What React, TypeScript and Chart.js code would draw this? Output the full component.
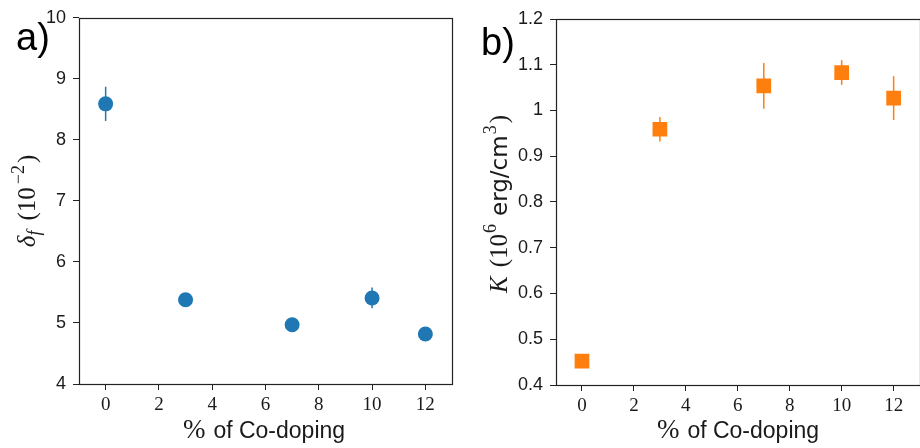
import React, { useEffect, useRef } from "react";
import { Chart, registerables } from "chart.js";

Chart.register(...registerables);

// ---- data ----
const codoping = [0, 3, 7, 10, 12];
const deltaF = [8.59, 5.38, 4.97, 5.41, 4.82];
const deltaFErr = [0.28, 0.06, 0.05, 0.17, 0.05];
const anisK = [0.452, 0.959, 1.054, 1.083, 1.027];
const anisKErr = [0.01, 0.027, 0.05, 0.027, 0.048];
const xTicks = [0, 2, 4, 6, 8, 10, 12];
const deltaTicks = [4, 5, 6, 7, 8, 9, 10];
const deltaTickLabels = ["4", "5", "6", "7", "8", "9", "10"];
const kTicks = [0.4, 0.5, 0.6, 0.7, 0.8, 0.9, 1.0, 1.1, 1.2];
const kTickLabels = ["0.4", "0.5", "0.6", "0.7", "0.8", "0.9", "1", "1.1", "1.2"];

const BLUE = "#1f77b4";
const ORANGE = "#ff7f0e";
const INK = "#1a1a1a";
const SERIF = "'Liberation Serif', 'DejaVu Serif', serif";
const SANS = "'Liberation Sans', Arial, sans-serif";
const DSANS = "'DejaVu Sans', sans-serif";

type Seg = { t: string; f: string; dy?: number; gap?: number };

function drawSegs(ctx: CanvasRenderingContext2D, segs: Seg[], x: number, y: number, rotate: boolean) {
  ctx.save();
  ctx.translate(x, y);
  if (rotate) ctx.rotate(-Math.PI / 2);
  ctx.textBaseline = "alphabetic";
  ctx.textAlign = "left";
  ctx.fillStyle = INK;
  let total = 0;
  const widths = segs.map((s) => {
    ctx.font = s.f;
    const w = ctx.measureText(s.t).width;
    total += w + (s.gap || 0);
    return w;
  });
  let cx = -total / 2;
  segs.forEach((s, i) => {
    cx += s.gap || 0;
    ctx.font = s.f;
    ctx.fillText(s.t, cx, s.dy || 0);
    cx += widths[i];
  });
  ctx.restore();
}

type PanelCfg = {
  ys: number[];
  errs: number[];
  color: string;
  pointStyle: string;
  radius: number;
  yMin: number;
  yMax: number;
  yTicks: number[];
  yLabels: string[];
  yWidth: number;
  padTop: number;
  padRight: number;
  xHeight: number;
  yTitle: Seg[];
  yTitleX: number;
  yTitleY: number;
  xTitleX: number;
  panel: string;
  panelX: number;
  panelY: number;
};

function makeChart(canvas: HTMLCanvasElement, c: PanelCfg) {
  const points = codoping.map((x, i) => ({ x, y: c.ys[i] }));
  const deco = {
    id: "deco",
    beforeDatasetsDraw(chart: any) {
      const ctx = chart.ctx as CanvasRenderingContext2D;
      const xs = chart.scales.x;
      const ys = chart.scales.y;
      ctx.save();
      ctx.strokeStyle = c.color;
      ctx.lineWidth = 1.5;
      points.forEach((p, i) => {
        const px = xs.getPixelForValue(p.x);
        ctx.beginPath();
        ctx.moveTo(px, ys.getPixelForValue(p.y - c.errs[i]));
        ctx.lineTo(px, ys.getPixelForValue(p.y + c.errs[i]));
        ctx.stroke();
      });
      ctx.restore();
    },
    afterDraw(chart: any) {
      const ctx = chart.ctx as CanvasRenderingContext2D;
      const a = chart.chartArea;
      ctx.save();
      ctx.strokeStyle = "#222";
      ctx.lineWidth = 1.2;
      ctx.strokeRect(Math.round(a.left) + 0.5, Math.round(a.top) + 0.5, Math.round(a.right - a.left), Math.round(a.bottom - a.top));
      ctx.restore();
      drawSegs(ctx, c.yTitle, c.yTitleX, c.yTitleY, true);
      drawSegs(
        ctx,
        [
          { t: "%", f: `27px ${SERIF}` },
          { t: "of Co-doping", f: `23px ${SANS}`, gap: 8 },
        ],
        c.xTitleX,
        438,
        false
      );
      ctx.save();
      ctx.fillStyle = "#000";
      ctx.font = `38px ${SANS}`;
      ctx.textBaseline = "alphabetic";
      ctx.textAlign = "left";
      ctx.fillText(c.panel, c.panelX, c.panelY);
      ctx.restore();
    },
  };

  return new Chart(canvas, {
    type: "scatter",
    data: {
      datasets: [
        {
          data: points,
          backgroundColor: c.color,
          borderColor: c.color,
          pointStyle: c.pointStyle as any,
          pointRadius: c.radius,
          pointHoverRadius: c.radius,
          pointBorderWidth: 0,
          showLine: false,
        },
      ],
    },
    options: {
      responsive: false,
      animation: false,
      devicePixelRatio: 1,
      layout: { padding: { left: 0, top: c.padTop, right: c.padRight, bottom: 0 } },
      plugins: { legend: { display: false }, tooltip: { enabled: false } },
      scales: {
        x: {
          type: "linear",
          min: -1,
          max: 13,
          afterBuildTicks: (s: any) => {
            s.ticks = xTicks.map((v) => ({ value: v }));
          },
          afterFit: (s: any) => {
            s.height = c.xHeight;
          },
          ticks: {
            color: INK,
            font: { family: SERIF, size: 19 },
            padding: 4,
            maxRotation: 0,
            autoSkip: false,
            callback: (v: any) => String(v),
          },
          grid: { display: true, drawOnChartArea: false, drawTicks: true, tickLength: 6, color: "#222", lineWidth: 1 },
          border: { display: false },
          title: { display: false },
        },
        y: {
          type: "linear",
          min: c.yMin,
          max: c.yMax,
          afterBuildTicks: (s: any) => {
            s.ticks = c.yTicks.map((v) => ({ value: v }));
          },
          afterFit: (s: any) => {
            s.width = c.yWidth;
          },
          ticks: {
            color: INK,
            font: { family: SANS, size: 18 },
            padding: 7,
            autoSkip: false,
            callback: (v: any) => {
              const i = c.yTicks.findIndex((t) => Math.abs(t - Number(v)) < 1e-9);
              return i >= 0 ? c.yLabels[i] : "";
            },
          },
          grid: { display: true, drawOnChartArea: false, drawTicks: true, tickLength: 6, color: "#222", lineWidth: 1 },
          border: { display: false },
          title: { display: false },
        },
      },
    },
    plugins: [deco],
  });
}

export default function App() {
  const leftRef = useRef<HTMLCanvasElement>(null);
  const rightRef = useRef<HTMLCanvasElement>(null);

  useEffect(() => {
    const left = makeChart(leftRef.current!, {
      ys: deltaF,
      errs: deltaFErr,
      color: BLUE,
      pointStyle: "circle",
      radius: 7.5,
      yMin: 4,
      yMax: 10,
      yTicks: deltaTicks,
      yLabels: deltaTickLabels,
      yWidth: 79,
      padTop: 12,
      padRight: 8,
      xHeight: 64,
      yTitle: [
        { t: "δ", f: `italic 25px ${SERIF}` },
        { t: "f", f: `italic 18px ${SERIF}`, dy: 5 },
        { t: "(10", f: `25px ${SERIF}`, gap: 10 },
        { t: "−2", f: `18px ${SERIF}`, dy: -11, gap: 3 },
        { t: ")", f: `25px ${SERIF}`, gap: 2 },
      ],
      yTitleX: 35,
      yTitleY: 201,
      xTitleX: 264,
      panel: "a)",
      panelX: 16,
      panelY: 50,
    });
    const right = makeChart(rightRef.current!, {
      ys: anisK,
      errs: anisKErr,
      color: ORANGE,
      pointStyle: "rect",
      radius: 10.4,
      yMin: 0.4,
      yMax: 1.2,
      yTicks: kTicks,
      yLabels: kTickLabels,
      yWidth: 96,
      padTop: 19,
      padRight: 9,
      xHeight: 63,
      yTitle: [
        { t: "K", f: `italic 25px ${SERIF}` },
        { t: "(10", f: `25px ${SERIF}`, gap: 9 },
        { t: "6", f: `18px ${SERIF}`, dy: -11, gap: 1 },
        { t: "erg/cm", f: `23px ${DSANS}`, gap: 8 },
        { t: "3", f: `18px ${SERIF}`, dy: -11, gap: 1 },
        { t: ")", f: `25px ${SERIF}`, gap: 2 },
      ],
      yTitleX: 47,
      yTitleY: 204,
      xTitleX: 278,
      panel: "b)",
      panelX: 21,
      panelY: 55,
    });
    return () => {
      left.destroy();
      right.destroy();
    };
  }, []);

  return (
    <div
      style={{
        position: "fixed",
        left: 0,
        top: 0,
        width: 920,
        height: 448,
        overflow: "hidden",
        background: "#fff",
      }}
    >
      <canvas
        ref={leftRef}
        width={460}
        height={448}
        style={{ position: "absolute", left: 0, top: 0, width: 460, height: 448 }}
      />
      <canvas
        ref={rightRef}
        width={470}
        height={448}
        style={{ position: "absolute", left: 460, top: 0, width: 470, height: 448 }}
      />
    </div>
  );
}
